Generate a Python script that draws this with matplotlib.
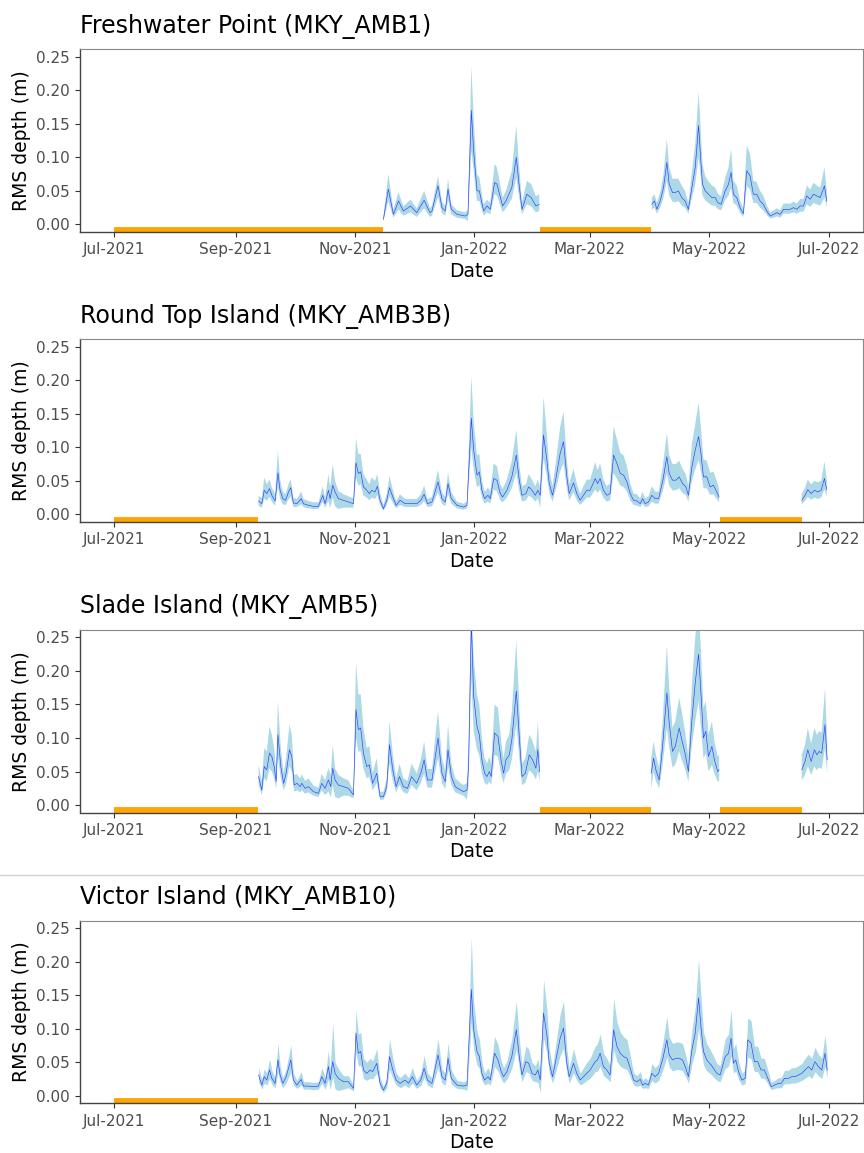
import numpy as np
import matplotlib.pyplot as plt
import matplotlib.dates as mdates
from matplotlib.lines import Line2D

# day offsets are counted from 1 July 2021
START = np.datetime64('2021-07-01T00:00')

titles = ['Freshwater Point (MKY_AMB1)', 'Round Top Island (MKY_AMB3B)',
          'Slade Island (MKY_AMB5)', 'Victor Island (MKY_AMB10)']

# ---- Freshwater Point (MKY_AMB1) ----
days_amb1 = [137.5, 140.0, 142.6, 145.2, 147.7, 151.4, 154.5, 158.3, 161.3, 162.3, 165.4, 167.4, 169.1,
             170.5, 172.2, 175.1, 179.3, 180.7, 182.4, 183.6, 185.3, 186.5, 188.7, 190.4, 192.1, 194.3,
             195.5, 198.4, 200.1, 203.1, 205.4, 206.6, 208.3, 210.8, 213.0, 215.4, 217.1,
             274.6, 276.0, 277.2, 278.9, 280.6, 282.3, 283.5, 285.2, 286.6, 288.2, 289.9, 291.6, 293.3,
             295.1, 296.8, 298.5, 299.3, 300.5, 301.9, 303.6, 305.3, 307.0, 308.3, 310.0, 312.1, 313.8,
             315.1, 316.3, 318.0, 319.7, 321.4, 323.1, 324.8, 326.5, 328.2, 329.9, 331.6, 333.3, 335.1,
             336.8, 338.5, 340.2, 341.9, 343.6, 345.3, 347.0, 348.7, 350.4, 352.1, 353.8, 355.5, 357.2,
             358.9, 360.6, 362.8, 364.0]
rms_amb1 = [0.0075, 0.0525, 0.015, 0.035, 0.020, 0.0275, 0.0175, 0.036, 0.0175, 0.020, 0.0575, 0.025, 0.020,
            0.0525, 0.0225, 0.015, 0.0125, 0.015, 0.170, 0.110, 0.050, 0.050, 0.020, 0.0275, 0.0225, 0.0625,
            0.060, 0.0275, 0.035, 0.055, 0.100, 0.065, 0.0225, 0.045, 0.040, 0.0275, 0.030,
            0.030, 0.035, 0.0225, 0.035, 0.055, 0.0925, 0.060, 0.0475, 0.0475, 0.050, 0.040, 0.035, 0.0225,
            0.055, 0.085, 0.1475, 0.110, 0.060, 0.050, 0.045, 0.040, 0.040, 0.0325, 0.030, 0.050, 0.060,
            0.0775, 0.045, 0.040, 0.025, 0.016, 0.080, 0.0725, 0.045, 0.045, 0.035, 0.030, 0.020, 0.0125,
            0.015, 0.0175, 0.015, 0.0225, 0.0225, 0.0225, 0.025, 0.0225, 0.0275, 0.0275, 0.0425, 0.0375, 0.045,
            0.0425, 0.040, 0.0575, 0.035]
low_amb1 = [0.005, 0.035, 0.010, 0.022, 0.013, 0.018, 0.011, 0.024, 0.011, 0.013, 0.040, 0.017, 0.013,
            0.036, 0.015, 0.010, 0.008, 0.005, 0.110, 0.080, 0.035, 0.035, 0.013, 0.018, 0.015, 0.045,
            0.043, 0.018, 0.024, 0.038, 0.070, 0.045, 0.015, 0.030, 0.027, 0.018, 0.020,
            0.022, 0.025, 0.016, 0.025, 0.040, 0.065, 0.043, 0.034, 0.033, 0.035, 0.028, 0.025, 0.016,
            0.039, 0.060, 0.100, 0.080, 0.043, 0.036, 0.032, 0.028, 0.028, 0.023, 0.021, 0.036, 0.043,
            0.055, 0.032, 0.028, 0.017, 0.011, 0.057, 0.052, 0.032, 0.032, 0.025, 0.021, 0.014, 0.009,
            0.010, 0.012, 0.010, 0.016, 0.016, 0.016, 0.018, 0.016, 0.019, 0.019, 0.030, 0.026, 0.032,
            0.030, 0.028, 0.040, 0.025]
high_amb1 = [0.012, 0.075, 0.022, 0.048, 0.027, 0.037, 0.024, 0.050, 0.024, 0.028, 0.072, 0.034, 0.027,
             0.068, 0.030, 0.021, 0.018, 0.022, 0.235, 0.160, 0.075, 0.070, 0.030, 0.037, 0.032, 0.090,
             0.085, 0.040, 0.050, 0.080, 0.1475, 0.095, 0.033, 0.065, 0.060, 0.042, 0.045,
             0.040, 0.045, 0.032, 0.048, 0.075, 0.1275, 0.085, 0.068, 0.068, 0.068, 0.058, 0.050, 0.032,
             0.078, 0.120, 0.1975, 0.160, 0.090, 0.072, 0.064, 0.058, 0.055, 0.046, 0.042, 0.070, 0.085,
             0.1125, 0.065, 0.058, 0.036, 0.023, 0.1175, 0.105, 0.065, 0.063, 0.050, 0.043, 0.029, 0.018,
             0.021, 0.024, 0.021, 0.031, 0.031, 0.031, 0.034, 0.031, 0.038, 0.038, 0.058, 0.052, 0.062,
             0.058, 0.055, 0.085, 0.050]
gaps_amb1 = [(0.0, 137.2), (217.6, 274.1)]

# ---- Round Top Island (MKY_AMB3B) ----
days_amb3b = [73.7, 75.4, 76.6, 77.9, 79.3, 80.5, 82.2, 83.6, 84.7, 86.1, 87.5, 89.0, 90.2, 91.5, 93.3,
              95.5, 96.7, 99.2, 101.8, 104.3, 106.5, 107.7, 109.4, 110.3, 111.6, 112.8, 114.5, 117.1,
              119.6, 122.2, 123.5, 124.7, 125.9, 127.3, 129.0, 130.3, 131.5, 133.2, 134.4, 135.8, 137.5,
              139.2, 140.6, 142.3, 144.0, 146.0, 148.6, 151.1, 154.5, 156.6, 158.3, 160.0, 162.3, 165.4,
              167.4, 169.1, 170.5, 172.2, 175.1, 178.5, 180.2, 182.4, 183.6, 185.3, 186.5, 187.8, 189.2,
              190.9, 192.1, 193.8, 195.5, 197.2, 198.4, 200.6, 203.1, 205.4, 206.9, 208.3, 210.3, 211.7,
              213.4, 215.1, 216.4, 217.6, 219.3, 221.0, 222.2, 223.9, 225.6, 227.8, 229.5, 231.2, 232.4,
              234.6, 236.3, 238.0, 239.7, 241.4, 243.1, 245.7, 246.9, 248.2, 249.9, 251.6, 253.3, 255.1,
              256.8, 258.5, 260.2, 261.9, 263.6, 265.3, 267.0, 268.7, 269.9, 271.2, 272.9, 274.6, 276.3,
              278.1, 280.3, 282.3, 283.5, 285.2, 286.9, 288.6, 290.3, 292.0, 293.3, 295.1, 296.8, 298.5,
              299.7, 301.0, 302.7, 304.4, 306.1, 307.8, 309.0,
              351.2, 352.9, 354.3, 356.0, 357.7, 359.4, 361.1, 362.8, 364.0]
rms_amb3b = [0.020, 0.016, 0.036, 0.031, 0.0385, 0.0285, 0.020, 0.062, 0.036, 0.0235, 0.021, 0.0335, 0.040,
             0.017, 0.016, 0.0235, 0.016, 0.0135, 0.012, 0.012, 0.0285, 0.016, 0.036, 0.0235, 0.0435, 0.0335,
             0.0235, 0.021, 0.0185, 0.016, 0.077, 0.061, 0.0635, 0.041, 0.036, 0.031, 0.036, 0.0335, 0.042,
             0.021, 0.0085, 0.021, 0.040, 0.026, 0.0135, 0.021, 0.016, 0.016, 0.016, 0.021, 0.030, 0.016,
             0.0185, 0.0485, 0.0235, 0.0185, 0.046, 0.0235, 0.0135, 0.011, 0.0135, 0.1435, 0.096, 0.0585,
             0.0635, 0.036, 0.0235, 0.0285, 0.0235, 0.0535, 0.051, 0.031, 0.026, 0.036, 0.056, 0.0885, 0.051,
             0.0285, 0.031, 0.041, 0.036, 0.0285, 0.036, 0.0285, 0.1185, 0.081, 0.046, 0.0285, 0.0535, 0.091,
             0.1085, 0.056, 0.031, 0.047, 0.031, 0.021, 0.0285, 0.036, 0.036, 0.0535, 0.046, 0.0535, 0.036,
             0.0285, 0.031, 0.0885, 0.076, 0.061, 0.0585, 0.0485, 0.031, 0.021, 0.020, 0.016, 0.0235, 0.016,
             0.0185, 0.0285, 0.0235, 0.0235, 0.051, 0.086, 0.061, 0.051, 0.051, 0.056, 0.046, 0.041, 0.0285,
             0.071, 0.096, 0.116, 0.091, 0.056, 0.056, 0.041, 0.0435, 0.0335, 0.026,
             0.021, 0.0285, 0.037, 0.031, 0.036, 0.0335, 0.036, 0.0535, 0.037]
low_amb3b = [0.013, 0.010, 0.024, 0.020, 0.026, 0.019, 0.013, 0.042, 0.024, 0.015, 0.014, 0.022, 0.027,
             0.011, 0.011, 0.015, 0.011, 0.009, 0.008, 0.008, 0.019, 0.010, 0.020, 0.010, 0.025, 0.012,
             0.008, 0.010, 0.010, 0.010, 0.055, 0.043, 0.045, 0.028, 0.025, 0.021, 0.025, 0.023, 0.029,
             0.014, 0.005, 0.014, 0.027, 0.017, 0.009, 0.014, 0.011, 0.011, 0.011, 0.014, 0.020, 0.011,
             0.012, 0.033, 0.016, 0.012, 0.031, 0.016, 0.009, 0.007, 0.009, 0.100, 0.067, 0.040,
             0.044, 0.025, 0.016, 0.019, 0.016, 0.037, 0.035, 0.021, 0.018, 0.025, 0.039, 0.062, 0.035,
             0.019, 0.021, 0.028, 0.025, 0.019, 0.024, 0.010, 0.083, 0.057, 0.032, 0.019, 0.037, 0.064,
             0.076, 0.039, 0.021, 0.033, 0.021, 0.014, 0.019, 0.025, 0.025, 0.037, 0.032, 0.037, 0.025,
             0.019, 0.021, 0.062, 0.053, 0.043, 0.041, 0.034, 0.021, 0.014, 0.013, 0.011, 0.016, 0.011,
             0.012, 0.019, 0.016, 0.016, 0.036, 0.060, 0.043, 0.036, 0.036, 0.039, 0.032, 0.029, 0.019,
             0.050, 0.067, 0.081, 0.064, 0.039, 0.039, 0.029, 0.030, 0.023, 0.018,
             0.015, 0.020, 0.026, 0.022, 0.025, 0.023, 0.025, 0.037, 0.026]
high_amb3b = [0.028, 0.024, 0.055, 0.045, 0.052, 0.040, 0.030, 0.096, 0.052, 0.034, 0.030, 0.045, 0.052,
              0.025, 0.023, 0.034, 0.023, 0.020, 0.018, 0.018, 0.042, 0.024, 0.060, 0.040, 0.075, 0.050,
              0.035, 0.030, 0.027, 0.024, 0.1135, 0.090, 0.090, 0.060, 0.052, 0.045, 0.055, 0.050, 0.060,
              0.032, 0.014, 0.030, 0.057, 0.037, 0.020, 0.030, 0.023, 0.023, 0.023, 0.030, 0.043, 0.023,
              0.026, 0.066, 0.033, 0.026, 0.062, 0.033, 0.019, 0.016, 0.019, 0.206, 0.140, 0.088,
              0.090, 0.052, 0.034, 0.040, 0.034, 0.076, 0.072, 0.045, 0.038, 0.052, 0.080, 0.126, 0.074,
              0.042, 0.045, 0.060, 0.052, 0.042, 0.052, 0.040, 0.176, 0.120, 0.068, 0.042, 0.078, 0.130,
              0.1535, 0.082, 0.046, 0.068, 0.046, 0.031, 0.042, 0.052, 0.052, 0.078, 0.066, 0.076, 0.052,
              0.042, 0.046, 0.131, 0.112, 0.092, 0.088, 0.072, 0.046, 0.031, 0.030, 0.024, 0.034, 0.024,
              0.027, 0.042, 0.034, 0.034, 0.074, 0.121, 0.088, 0.075, 0.075, 0.080, 0.068, 0.060, 0.042,
              0.105, 0.135, 0.166, 0.130, 0.082, 0.080, 0.062, 0.064, 0.050, 0.038,
              0.030, 0.040, 0.052, 0.045, 0.050, 0.048, 0.050, 0.0785, 0.052]
gaps_amb3b = [(0.0, 73.2), (309.5, 351.2)]

# ---- Slade Island (MKY_AMB5) ----
days_amb5 = [73.7, 75.4, 76.6, 77.9, 79.3, 80.5, 81.7, 82.7, 83.6, 85.1, 86.5, 87.8, 89.5, 90.7, 91.9,
             93.3, 95.0, 95.8, 97.5, 99.2, 101.8, 104.3, 106.0, 107.7, 109.4, 110.6, 111.6, 112.8, 114.5,
             117.1, 119.6, 122.2, 123.5, 124.7, 125.9, 127.3, 129.0, 130.3, 132.0, 134.1, 135.8, 137.5,
             139.2, 140.6, 142.3, 144.0, 145.7, 147.7, 149.8, 151.9, 154.5, 156.6, 158.3, 160.0, 162.3,
             165.4, 167.4, 169.1, 170.5, 172.2, 174.2, 176.8, 178.5, 180.2, 181.0, 182.4, 183.6, 185.3,
             186.5, 187.8, 189.2, 190.4, 191.6, 192.6, 194.3, 196.0, 197.7, 198.9, 200.1, 201.8, 203.1,
             205.4, 206.9, 208.3, 210.0, 212.0, 213.7, 215.4, 216.4, 217.3,
             274.3, 275.5, 276.7, 278.4, 280.1, 282.3, 283.5, 285.2, 286.6, 288.6, 289.9, 291.6, 293.3,
             295.1, 296.8, 298.5, 299.8, 301.0, 302.2, 303.6, 305.3, 306.6, 308.3, 309.0,
             351.2, 352.9, 354.3, 356.0, 357.7, 358.9, 360.1, 361.4, 363.1, 364.2]
rms_amb5 = [0.0425, 0.0225, 0.0575, 0.0525, 0.0775, 0.0725, 0.0575, 0.035, 0.105, 0.0575, 0.0325, 0.0475,
            0.0825, 0.0725, 0.030, 0.0325, 0.0275, 0.0325, 0.025, 0.0275, 0.020, 0.0175, 0.0325, 0.025,
            0.0375, 0.0275, 0.055, 0.0375, 0.030, 0.0275, 0.025, 0.015, 0.1425, 0.1125, 0.115, 0.0775,
            0.0575, 0.060, 0.0325, 0.0475, 0.0125, 0.0125, 0.0275, 0.090, 0.0525, 0.0275, 0.0425, 0.0275,
            0.025, 0.0425, 0.0325, 0.0475, 0.0675, 0.0375, 0.0375,
            0.100, 0.0475, 0.035, 0.0825, 0.0425, 0.0275, 0.0225, 0.020, 0.0225, 0.0575, 0.275, 0.1625,
            0.1175, 0.105, 0.0675, 0.0475, 0.0425, 0.050, 0.0425, 0.1075, 0.1025, 0.065, 0.0475, 0.0675,
            0.075, 0.0975, 0.170, 0.1025, 0.0425, 0.0475, 0.075, 0.0675, 0.055, 0.0825, 0.050,
            0.0475, 0.070, 0.0525, 0.0375, 0.0875, 0.1675, 0.1225, 0.080, 0.0875, 0.115, 0.0975, 0.0775,
            0.050, 0.1275, 0.1825, 0.225, 0.1625, 0.100, 0.110, 0.0725, 0.0875, 0.0675, 0.050, 0.0525,
            0.0525, 0.065, 0.0825, 0.065, 0.0825, 0.075, 0.080, 0.0775, 0.120, 0.0675]
low_amb5 = [0.030, 0.015, 0.040, 0.035, 0.055, 0.050, 0.040, 0.024, 0.070, 0.040, 0.022, 0.032,
            0.058, 0.050, 0.020, 0.022, 0.019, 0.022, 0.017, 0.019, 0.014, 0.012, 0.022, 0.015,
            0.020, 0.012, 0.030, 0.012, 0.010, 0.014, 0.014, 0.010, 0.100, 0.080, 0.080, 0.055,
            0.040, 0.042, 0.022, 0.033, 0.008, 0.008, 0.019, 0.063, 0.036, 0.019, 0.030, 0.019,
            0.017, 0.030, 0.022, 0.033, 0.047, 0.026, 0.026,
            0.070, 0.033, 0.024, 0.058, 0.030, 0.019, 0.016, 0.014, 0.008, 0.030, 0.190, 0.110,
            0.083, 0.074, 0.047, 0.033, 0.030, 0.035, 0.030, 0.075, 0.072, 0.045, 0.033, 0.047,
            0.052, 0.068, 0.120, 0.072, 0.030, 0.033, 0.052, 0.047, 0.038, 0.050, 0.035,
            0.024, 0.050, 0.036, 0.025, 0.060, 0.115, 0.085, 0.056, 0.060, 0.080, 0.068, 0.054,
            0.035, 0.090, 0.125, 0.155, 0.112, 0.070, 0.077, 0.050, 0.060, 0.047, 0.035, 0.036,
            0.037, 0.045, 0.058, 0.045, 0.058, 0.052, 0.056, 0.054, 0.085, 0.047]
high_amb5 = [0.060, 0.035, 0.085, 0.080, 0.1175, 0.105, 0.085, 0.052, 0.155, 0.085, 0.048, 0.070,
             0.120, 0.105, 0.045, 0.046, 0.040, 0.046, 0.036, 0.040, 0.029, 0.026, 0.047, 0.037,
             0.055, 0.045, 0.090, 0.055, 0.045, 0.040, 0.037, 0.022, 0.2125, 0.165, 0.165, 0.115,
             0.085, 0.088, 0.048, 0.070, 0.020, 0.020, 0.040, 0.125, 0.076, 0.040, 0.062, 0.040,
             0.036, 0.062, 0.047, 0.068, 0.095, 0.054, 0.054,
             0.140, 0.070, 0.052, 0.120, 0.062, 0.040, 0.033, 0.030, 0.033, 0.090, 0.300, 0.220,
             0.165, 0.150, 0.100, 0.070, 0.062, 0.072, 0.062, 0.150, 0.145, 0.095, 0.070, 0.095,
             0.105, 0.140, 0.245, 0.150, 0.062, 0.070, 0.105, 0.095, 0.080, 0.125, 0.072,
             0.070, 0.095, 0.075, 0.055, 0.125, 0.2375, 0.175, 0.115, 0.125, 0.160, 0.140, 0.110,
             0.072, 0.180, 0.250, 0.300, 0.225, 0.145, 0.155, 0.105, 0.125, 0.095, 0.072, 0.075,
             0.075, 0.090, 0.115, 0.092, 0.115, 0.105, 0.110, 0.108, 0.175, 0.095]
gaps_amb5 = [(0.0, 73.2), (217.6, 274.1), (309.5, 351.2)]

# ---- Victor Island (MKY_AMB10) ----
days_amb10 = [73.7, 75.4, 76.6, 77.9, 79.3, 80.5, 82.2, 83.6, 84.7, 86.1, 87.8, 90.2, 91.5, 93.3, 95.5,
              96.7, 99.2, 101.8, 104.3, 106.0, 107.7, 109.4, 110.3, 111.6, 112.8, 114.5, 117.1, 119.6,
              122.2, 123.5, 124.7, 125.9, 127.3, 129.0, 130.7, 132.0, 134.1, 135.8, 137.5, 139.2, 140.6,
              142.3, 144.0, 146.0, 148.6, 150.3, 152.3, 154.5, 156.6, 158.3, 160.0, 162.3, 165.4, 167.4,
              169.1, 170.5, 172.2, 175.1, 178.5, 180.2, 182.4, 183.6, 185.3, 186.5, 187.8, 189.2, 190.9,
              192.1, 194.3, 196.0, 197.7, 198.9, 200.6, 203.1, 205.4, 206.9, 208.3, 210.3, 211.7, 213.4,
              215.1, 216.4, 217.6, 219.3, 221.0, 222.2, 223.9, 225.6, 227.8, 229.5, 231.2, 232.4, 234.6,
              236.3, 238.0, 239.7, 241.4, 243.1, 245.7, 246.9, 248.2, 249.9, 251.6, 253.3, 255.1, 256.8,
              258.5, 260.2, 261.9, 263.6, 265.3, 267.0, 268.7, 269.9, 271.2, 272.9, 274.6, 276.3, 278.1,
              280.3, 282.3, 283.5, 285.2, 286.9, 288.6, 290.3, 292.0, 293.3, 295.1, 296.8, 298.5, 299.7,
              301.0, 302.7, 304.9, 306.1, 307.8, 309.5, 312.1, 313.8, 315.1, 316.3, 317.5, 318.9, 320.6,
              322.3, 323.6, 325.3, 327.0, 328.7, 330.4, 332.1, 333.9, 335.6, 337.3, 339.3, 340.7, 342.4,
              344.4, 346.1, 347.8, 349.5, 351.2, 352.9, 354.6, 356.3, 358.0, 359.7, 361.4, 363.1, 364.2]
rms_amb10 = [0.031, 0.016, 0.0285, 0.0235, 0.0385, 0.026, 0.0185, 0.0535, 0.031, 0.0185, 0.0285, 0.0535,
             0.0235, 0.016, 0.0245, 0.0145, 0.0145, 0.0135, 0.0145, 0.0285, 0.0185, 0.0435, 0.0235, 0.051,
             0.0335, 0.026, 0.021, 0.021, 0.011, 0.0935, 0.0635, 0.066, 0.0385, 0.0335, 0.0385, 0.036,
             0.0485, 0.0185, 0.0085, 0.0185, 0.0585, 0.0385, 0.0235, 0.0185, 0.0235, 0.0185, 0.0285,
             0.016, 0.0235, 0.041, 0.0235, 0.0185, 0.061, 0.0285, 0.0235, 0.056, 0.026, 0.016, 0.0145,
             0.016, 0.1585, 0.0985, 0.066, 0.0585, 0.0335, 0.0235, 0.0285, 0.0235, 0.0635, 0.0535, 0.036,
             0.0285, 0.036, 0.0585, 0.0985, 0.0585, 0.031, 0.051, 0.0485, 0.0335, 0.031, 0.0385, 0.0235,
             0.1235, 0.091, 0.0485, 0.0285, 0.0535, 0.086, 0.101, 0.0485, 0.0285, 0.0485, 0.0335, 0.0235,
             0.0285, 0.0335, 0.0385, 0.051, 0.0535, 0.0635, 0.0435, 0.0385, 0.031, 0.0985, 0.0735, 0.0635,
             0.0585, 0.056, 0.041, 0.0235, 0.021, 0.0245, 0.016, 0.0185, 0.016, 0.0335, 0.0285, 0.0335,
             0.056, 0.0835, 0.061, 0.0535, 0.056, 0.056, 0.0535, 0.041, 0.0285, 0.0685, 0.0935, 0.146,
             0.1035, 0.066, 0.0535, 0.046, 0.041, 0.0335, 0.031, 0.0585, 0.0635, 0.086, 0.0485, 0.0535,
             0.036, 0.0235, 0.026, 0.0835, 0.0785, 0.051, 0.051, 0.0385, 0.0385, 0.026, 0.0135, 0.016,
             0.0185, 0.0185, 0.026, 0.026, 0.0285, 0.0285, 0.031, 0.0335, 0.0385, 0.0435, 0.0385, 0.051,
             0.0435, 0.0385, 0.0635, 0.0385]
low_amb10 = [0.021, 0.010, 0.019, 0.016, 0.026, 0.017, 0.012, 0.036, 0.021, 0.012, 0.019, 0.036,
             0.016, 0.011, 0.016, 0.010, 0.010, 0.009, 0.010, 0.019, 0.010, 0.025, 0.010, 0.028,
             0.010, 0.008, 0.010, 0.012, 0.007, 0.065, 0.044, 0.046, 0.026, 0.023, 0.026, 0.025,
             0.034, 0.012, 0.005, 0.012, 0.040, 0.026, 0.016, 0.012, 0.016, 0.012, 0.019,
             0.011, 0.016, 0.028, 0.016, 0.012, 0.042, 0.019, 0.016, 0.039, 0.017, 0.011, 0.010,
             0.008, 0.110, 0.069, 0.046, 0.041, 0.023, 0.016, 0.019, 0.016, 0.044, 0.037, 0.025,
             0.019, 0.025, 0.041, 0.069, 0.041, 0.021, 0.036, 0.034, 0.023, 0.021, 0.020, 0.005,
             0.086, 0.064, 0.034, 0.019, 0.037, 0.060, 0.071, 0.034, 0.019, 0.034, 0.023, 0.016,
             0.019, 0.023, 0.026, 0.036, 0.037, 0.044, 0.030, 0.026, 0.021, 0.069, 0.051, 0.044,
             0.041, 0.039, 0.028, 0.016, 0.014, 0.016, 0.011, 0.012, 0.011, 0.023, 0.019, 0.023,
             0.039, 0.058, 0.043, 0.037, 0.039, 0.039, 0.037, 0.028, 0.019, 0.048, 0.065, 0.100,
             0.072, 0.046, 0.037, 0.032, 0.028, 0.023, 0.021, 0.041, 0.044, 0.060, 0.034, 0.037,
             0.025, 0.016, 0.018, 0.058, 0.055, 0.036, 0.036, 0.026, 0.026, 0.018, 0.009, 0.011,
             0.012, 0.012, 0.018, 0.018, 0.019, 0.019, 0.021, 0.023, 0.026, 0.030, 0.026, 0.036,
             0.030, 0.026, 0.044, 0.026]
high_amb10 = [0.042, 0.025, 0.040, 0.034, 0.055, 0.038, 0.027, 0.0785, 0.045, 0.027, 0.040, 0.076,
              0.034, 0.023, 0.036, 0.021, 0.021, 0.020, 0.021, 0.042, 0.028, 0.068, 0.038, 0.1085,
              0.050, 0.040, 0.030, 0.030, 0.016, 0.128, 0.092, 0.095, 0.056, 0.050, 0.056, 0.052,
              0.070, 0.027, 0.014, 0.027, 0.085, 0.056, 0.034, 0.027, 0.034, 0.027, 0.042,
              0.023, 0.034, 0.060, 0.034, 0.027, 0.085, 0.040, 0.034, 0.079, 0.038, 0.023, 0.021,
              0.023, 0.236, 0.140, 0.095, 0.085, 0.050, 0.034, 0.042, 0.034, 0.0885, 0.077, 0.052,
              0.042, 0.052, 0.085, 0.141, 0.085, 0.045, 0.074, 0.070, 0.050, 0.045, 0.055, 0.035,
              0.1735, 0.130, 0.070, 0.042, 0.078, 0.122, 0.141, 0.070, 0.042, 0.070, 0.050, 0.034,
              0.042, 0.050, 0.056, 0.074, 0.078, 0.092, 0.064, 0.056, 0.045, 0.146, 0.110, 0.095,
              0.088, 0.084, 0.060, 0.034, 0.030, 0.036, 0.023, 0.027, 0.023, 0.048, 0.042, 0.048,
              0.080, 0.118, 0.088, 0.078, 0.080, 0.080, 0.078, 0.060, 0.042, 0.098, 0.132, 0.2035,
              0.150, 0.095, 0.078, 0.066, 0.060, 0.048, 0.045, 0.085, 0.092, 0.1285, 0.070, 0.078,
              0.052, 0.034, 0.038, 0.116, 0.112, 0.074, 0.074, 0.056, 0.056, 0.038, 0.020, 0.023,
              0.027, 0.027, 0.038, 0.038, 0.042, 0.042, 0.045, 0.048, 0.056, 0.062, 0.056, 0.072,
              0.062, 0.056, 0.091, 0.056]
gaps_amb10 = [(0.0, 73.2)]

sites = [(days_amb1, rms_amb1, low_amb1, high_amb1, gaps_amb1),
         (days_amb3b, rms_amb3b, low_amb3b, high_amb3b, gaps_amb3b),
         (days_amb5, rms_amb5, low_amb5, high_amb5, gaps_amb5),
         (days_amb10, rms_amb10, low_amb10, high_amb10, gaps_amb10)]


def to_dates(d):
    return START + (np.asarray(d) * 1440).astype('timedelta64[m]')


def break_gaps(d, *series):
    # put a NaN between samples more than 10 days apart so the line stops
    d = np.asarray(d, dtype=float)
    cut = np.where(np.diff(d) > 10)[0] + 1
    out = [np.insert(d, cut, d[cut - 1] + 1)]
    for s in series:
        out.append(np.insert(np.asarray(s, dtype=float), cut, np.nan))
    return out


fig = plt.figure(figsize=(8.64, 11.53), dpi=100)
W, H = 864, 1153
ax_top = [49.3, 339.3, 630.0, 920.7]   # pixel rows of each panel's top edge
ax_h = 182.5

for i, (d, m, lo, hi, gaps) in enumerate(sites):
    ax = fig.add_axes([80 / W, 1 - (ax_top[i] + ax_h) / H, 783 / W, ax_h / H])
    dd, mm, ll, hh = break_gaps(d, m, lo, hi)
    x = to_dates(dd)
    ax.fill_between(x, ll, hh, color='lightblue', linewidth=0)
    ax.plot(x, mm, color='#2b3cff', linewidth=0.45)

    # orange bars mark periods with no data
    for g0, g1 in gaps:
        ax.hlines(-0.0077, to_dates(g0), to_dates(g1), color='orange', linewidth=4.2,
                  capstyle='butt')

    ax.set_xlim(to_dates(-17.5), to_dates(382.5))
    ax.set_ylim(-0.011, 0.261)
    ax.set_yticks([0, 0.05, 0.10, 0.15, 0.20, 0.25])
    ax.yaxis.set_major_formatter(plt.FormatStrFormatter('%.2f'))
    ax.xaxis.set_major_locator(mdates.MonthLocator(bymonth=[1, 3, 5, 7, 9, 11]))
    ax.xaxis.set_major_formatter(mdates.DateFormatter('%b-%Y'))
    ax.tick_params(labelsize=11, labelcolor='#4D4D4D', color='#333333', length=3.6, width=0.8)
    ax.tick_params(axis='y', pad=4)
    ax.tick_params(axis='x', pad=4)

    for side in ['top', 'right']:
        ax.spines[side].set_color('#888888')
        ax.spines[side].set_linewidth(0.8)
    for side in ['left', 'bottom']:
        ax.spines[side].set_color('#444444')
        ax.spines[side].set_linewidth(1.0)

    ax.set_title(titles[i], loc='left', fontsize=17, pad=12)
    ax.set_xlabel('Date', fontsize=13.5, labelpad=3)
    ax.set_ylabel('RMS depth (m)', fontsize=13.5)
    ax.yaxis.set_label_coords(-0.063, 0.5)

# thin divider between the third and fourth panels
fig.add_artist(Line2D([0, 1], [1 - 875 / H] * 2, color='#d3d3d3', linewidth=1.0))

fig.savefig('out.png', dpi=100)
